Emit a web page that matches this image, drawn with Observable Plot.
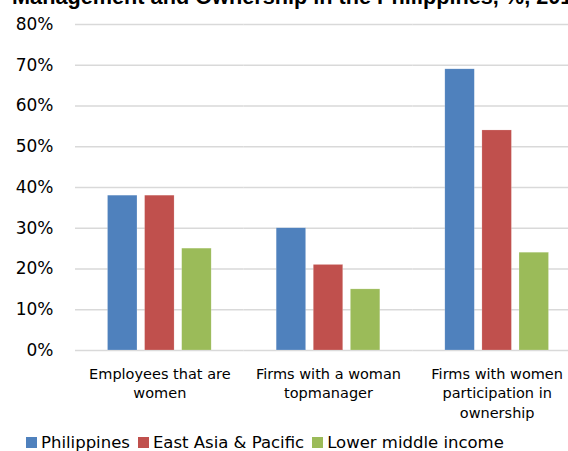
<!DOCTYPE html>
<html>
<head>
<meta charset="utf-8">
<script src="https://cdn.jsdelivr.net/npm/d3@7"></script>
<script src="https://cdn.jsdelivr.net/npm/@observablehq/plot@0.6"></script>
<style>
  html, body { margin: 0; padding: 0; background: #fff; overflow: hidden; }
  #wrap { position: relative; width: 568px; height: 451px; overflow: hidden; font-family: "DejaVu Sans", sans-serif; background: #fff; }
  #title { position: absolute; z-index: 2; top: -14px; left: 12px; white-space: nowrap; font-family: "Liberation Sans", Arial, sans-serif; font-weight: bold; font-size: 21.7px; color: #000; line-height: 21.7px; }
  #chart { position: absolute; z-index: 1; top: 0; left: 0; width: 581px; }
  #chart svg { max-width: none !important; }
  #legend { position: absolute; z-index: 2; top: 433px; left: 26px; display: flex; align-items: center; white-space: nowrap; font-size: 16.5px; color: #000; }
  #legend .item { display: flex; align-items: center; margin-right: 8px; }
  #legend .sw { width: 11px; height: 11px; margin-right: 4px; }
</style>
</head>
<body>
<div id="wrap">
  <div id="chart"></div>
  <div id="title">Management and Ownership in the Philippines, %, 2015</div>
  <div id="legend"></div>
</div>
<script>
const categories = ["Employees that are women", "Firms with a woman topmanager", "Firms with women participation in ownership"];
const categoryLabels = ["Employees that are\nwomen", "Firms with a woman\ntopmanager", "Firms with women\nparticipation in\nownership"];
const series = ["Philippines", "East Asia & Pacific", "Lower middle income"];
const philippines = [38, 30, 69];
const eastAsiaPacific = [38, 21, 54];
const lowerMiddleIncome = [25, 15, 24];
const colors = ["#4F81BD", "#C0504D", "#9BBB59"];
const yTicks = [0, 10, 20, 30, 40, 50, 60, 70, 80];

const seriesValues = [philippines, eastAsiaPacific, lowerMiddleIncome];
const data = [];
categories.forEach((c, i) => {
  series.forEach((s, j) => data.push({category: c, series: s, value: seriesValues[j][i]}));
});

const chart = Plot.plot({
  width: 581,
  height: 425,
  marginLeft: 75,
  marginRight: 0,
  marginTop: 24,
  marginBottom: 75,
  style: {fontFamily: "DejaVu Sans, sans-serif", fontSize: "15px", color: "#000", background: "transparent"},
  fx: {domain: categories, padding: 0, round: false, label: null},
  x: {domain: series, paddingInner: 0.205, paddingOuter: 0.876, round: false, axis: null},
  y: {domain: [0, 80], range: [350, 24], label: null},
  color: {domain: series, range: colors},
  marks: [
    Plot.ruleY(yTicks, {stroke: "#d9d9d9", strokeWidth: 1.5}),
    Plot.barY(data, {fx: "category", x: "series", y: "value", fill: "series", stroke: "#ffffff", strokeOpacity: 0.4, strokeWidth: 0.5}),
    Plot.axisY({ticks: yTicks, tickSize: 0, tickPadding: 22, tickFormat: d => d + "%", fontSize: 17, label: null}),
    Plot.axisFx({anchor: "bottom", tickSize: 0, tickPadding: 14.5, fontSize: 14.5, lineHeight: 1.34, tickFormat: d => categoryLabels[categories.indexOf(d)], label: null})
  ]
});
document.getElementById("chart").appendChild(chart);

const legend = document.getElementById("legend");
series.forEach((s, i) => {
  const item = document.createElement("div");
  item.className = "item";
  const sw = document.createElement("div");
  sw.className = "sw";
  sw.style.background = colors[i];
  const t = document.createElement("span");
  t.textContent = s;
  item.appendChild(sw);
  item.appendChild(t);
  legend.appendChild(item);
});
</script>
</body>
</html>
